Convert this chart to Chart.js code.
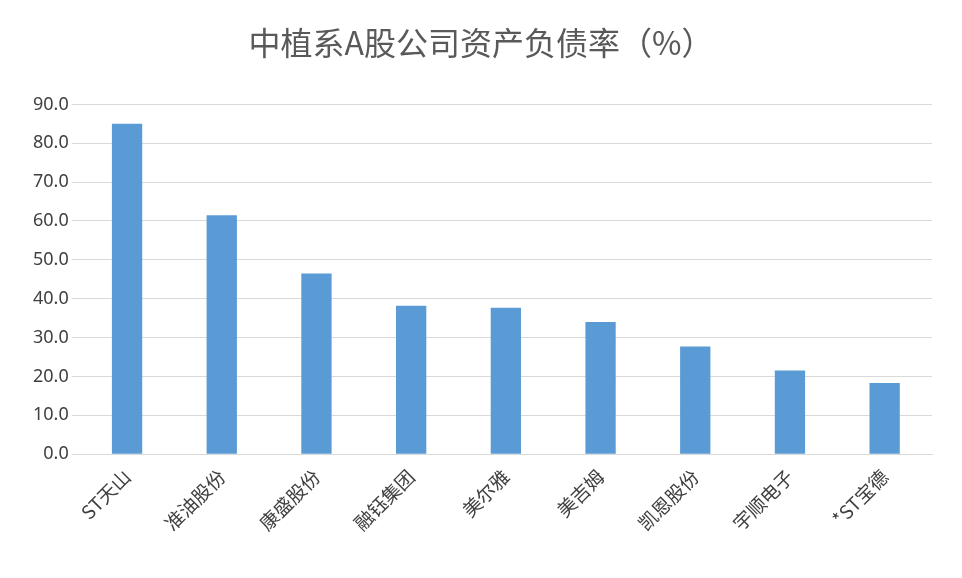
<!DOCTYPE html>
<html>
<head>
<meta charset="utf-8">
<script src="https://cdn.jsdelivr.net/npm/chart.js@4"></script>
<style>
  body { margin: 0; background: #fff; }
  #wrap { width: 962px; height: 578px; }
</style>
</head>
<body>
<div id="wrap"><canvas id="debtChart"></canvas></div>
<script>
// 中植系A股公司资产负债率
const companies = ['ST天山', '准油股份', '康盛股份', '融钰集团', '美尔雅', '美吉姆', '凯恩股份', '宇顺电子', '*ST宝德'];
const debtRatio = [85.0, 61.5, 46.5, 38.2, 37.7, 34.0, 27.7, 21.5, 18.3];

const ctx = document.getElementById('debtChart').getContext('2d');
const debtChart = new Chart(ctx, {
    type: 'bar',
    data: {
        labels: companies,
        datasets: [{
            label: '资产负债率',
            data: debtRatio,
            backgroundColor: '#5b9bd5',
            categoryPercentage: 0.32,
            barPercentage: 1
        }]
    },
    options: {
        responsive: true,
        maintainAspectRatio: false,
        animation: false,
        layout: { padding: { left: 30, right: 30, top: 10, bottom: 40 } },
        plugins: {
            legend: { display: false },
            title: {
                display: true,
                text: '中植系A股公司资产负债率（%）',
                color: '#595959',
                font: { family: 'Noto Sans CJK SC', size: 32, weight: 'normal' },
                padding: { top: 14, bottom: 42 }
            }
        },
        scales: {
            y: {
                min: 0,
                max: 90,
                ticks: {
                    stepSize: 10,
                    color: '#404040',
                    font: { family: 'Noto Sans', size: 18 },
                    callback: v => v.toFixed(1)
                },
                grid: { color: '#d9d9d9' },
                border: { display: false }
            },
            x: {
                ticks: {
                    color: '#404040',
                    maxRotation: 45,
                    minRotation: 45,
                    font: { family: 'Noto Sans CJK SC', size: 19 }
                },
                grid: { display: false },
                border: { color: '#d9d9d9' }
            }
        }
    }
});
</script>
</body>
</html>
